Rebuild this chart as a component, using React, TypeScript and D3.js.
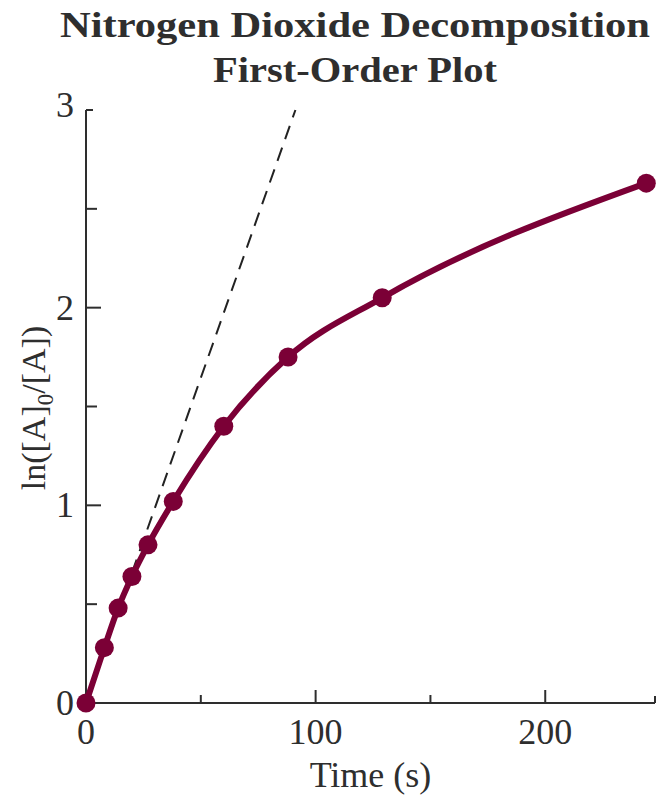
import React, { useEffect, useRef } from 'react';
import * as d3 from 'd3';

// measured points: time (s) vs ln([A]0/[A])
const times = [0, 8, 14, 20, 27, 38, 60, 88, 129, 244];
const lnRatio = [0, 0.28, 0.48, 0.64, 0.8, 1.02, 1.4, 1.75, 2.05, 2.63];

// initial-rate tangent (dashed)
const tangentTimes = [0, 91.2];
const tangentValues = [0, 3];

const xMajorTicks = [0, 100, 200];
const xMinorTicks = [50, 150];
const yMajorTicks = [0, 1, 2, 3];
const yMinorTicks = [0.5, 1.5, 2.5];

const titleLines = ['Nitrogen Dioxide Decomposition', 'First-Order Plot'];

const App = () => {
  const svgRef = useRef<SVGSVGElement>(null);

  useEffect(() => {
    if (!svgRef.current) return;
    const width = 660;
    const height = 797;
    const margin = { top: 110, right: 5, bottom: 94, left: 86 };
    const ink = '#2e2e2e';
    const wine = '#7b0036';
    const font = '"Liberation Serif", "DejaVu Serif", serif';

    const svg = d3.select(svgRef.current)
      .attr('width', width)
      .attr('height', height)
      .attr('viewBox', `0 0 ${width} ${height}`);
    svg.selectAll('*').remove();

    const x = d3.scaleLinear().domain([0, 247.8]).range([margin.left, width - margin.right]);
    const y = d3.scaleLinear().domain([0, 3]).range([height - margin.bottom, margin.top]);

    // Title (stretched to the wider face of the original)
    const titleLayout = [
      { y: 37, len: 590 },
      { y: 82, len: 284 },
    ];
    titleLines.forEach((line, i) => {
      svg.append('text')
        .attr('x', 355)
        .attr('y', titleLayout[i].y)
        .attr('text-anchor', 'middle')
        .attr('textLength', titleLayout[i].len)
        .attr('lengthAdjust', 'spacingAndGlyphs')
        .attr('fill', ink)
        .attr('font-family', font)
        .attr('font-weight', 'bold')
        .attr('font-size', '35px')
        .text(line);
    });

    // Axes lines
    const axisG = svg.append('g').attr('stroke', ink).attr('stroke-width', 2).attr('fill', 'none');
    axisG.append('line')
      .attr('x1', x(0)).attr('x2', x(0))
      .attr('y1', y(3)).attr('y2', y(0));
    axisG.append('line')
      .attr('x1', x(0)).attr('x2', x(247.8))
      .attr('y1', y(0)).attr('y2', y(0));
    // small ticks at axis ends
    axisG.append('line')
      .attr('x1', x(0)).attr('x2', x(0) + 7)
      .attr('y1', y(3)).attr('y2', y(3));
    axisG.append('line')
      .attr('x1', x(247.8)).attr('x2', x(247.8))
      .attr('y1', y(0)).attr('y2', y(0) - 7);

    // x ticks (inward)
    axisG.selectAll('.xmaj').data(xMajorTicks.slice(1)).enter().append('line')
      .attr('x1', d => x(d)).attr('x2', d => x(d))
      .attr('y1', y(0)).attr('y2', y(0) - 13);
    axisG.selectAll('.xmin').data(xMinorTicks).enter().append('line')
      .attr('x1', d => x(d)).attr('x2', d => x(d))
      .attr('y1', y(0)).attr('y2', y(0) - 8);
    // y ticks (inward)
    axisG.selectAll('.ymaj').data(yMajorTicks.slice(1, 3)).enter().append('line')
      .attr('x1', x(0)).attr('x2', x(0) + 15)
      .attr('y1', d => y(d)).attr('y2', d => y(d));
    axisG.selectAll('.ymin').data(yMinorTicks).enter().append('line')
      .attr('x1', x(0)).attr('x2', x(0) + 11)
      .attr('y1', d => y(d)).attr('y2', d => y(d));

    // tick labels
    svg.append('g').selectAll('text').data(xMajorTicks).enter().append('text')
      .attr('x', d => x(d))
      .attr('y', y(0) + 41)
      .attr('text-anchor', 'middle')
      .attr('fill', ink)
      .attr('font-family', font)
      .attr('font-size', '36px')
      .text(d => d);
    svg.append('g').selectAll('text').data(yMajorTicks).enter().append('text')
      .attr('x', x(0) - 12)
      .attr('y', d => y(d) + (d === 3 ? 7 : 12))
      .attr('text-anchor', 'end')
      .attr('fill', ink)
      .attr('font-family', font)
      .attr('font-size', '36px')
      .text(d => d);

    // axis titles
    svg.append('text')
      .attr('x', (x(0) + x(247.8)) / 2)
      .attr('y', 787)
      .attr('text-anchor', 'middle')
      .attr('fill', ink)
      .attr('font-family', font)
      .attr('font-size', '36px')
      .text('Time (s)');
    const yl = svg.append('text')
      .attr('transform', 'translate(45,408) rotate(-90)')
      .attr('text-anchor', 'middle')
      .attr('fill', ink)
      .attr('font-family', font)
      .attr('font-size', '34px');
    yl.append('tspan').text('ln([A]');
    yl.append('tspan').attr('font-size', '23px').attr('dy', 8).text('0');
    yl.append('tspan').attr('dy', -8).text('/[A])');

    // dashed tangent
    svg.append('path')
      .datum(tangentTimes.map((t, i) => [t, tangentValues[i]] as [number, number]))
      .attr('d', d3.line<[number, number]>().x(d => x(d[0])).y(d => y(d[1])))
      .attr('fill', 'none')
      .attr('stroke', '#222')
      .attr('stroke-width', 2)
      .attr('stroke-dasharray', '14,9');

    // smooth curve
    const pts = times.map((t, i) => [t, lnRatio[i]] as [number, number]);
    svg.append('path')
      .datum(pts)
      .attr('d', d3.line<[number, number]>().x(d => x(d[0])).y(d => y(d[1])).curve(d3.curveMonotoneX))
      .attr('fill', 'none')
      .attr('stroke', wine)
      .attr('stroke-width', 6)
      .attr('stroke-linecap', 'round');

    svg.append('g').selectAll('circle').data(pts).enter().append('circle')
      .attr('cx', d => x(d[0]))
      .attr('cy', d => y(d[1]))
      .attr('r', 9.5)
      .attr('fill', wine);
  }, []);

  return <svg ref={svgRef} style={{ position: 'absolute', left: 0, top: 0, background: '#fff' }} />;
};

export default App;
